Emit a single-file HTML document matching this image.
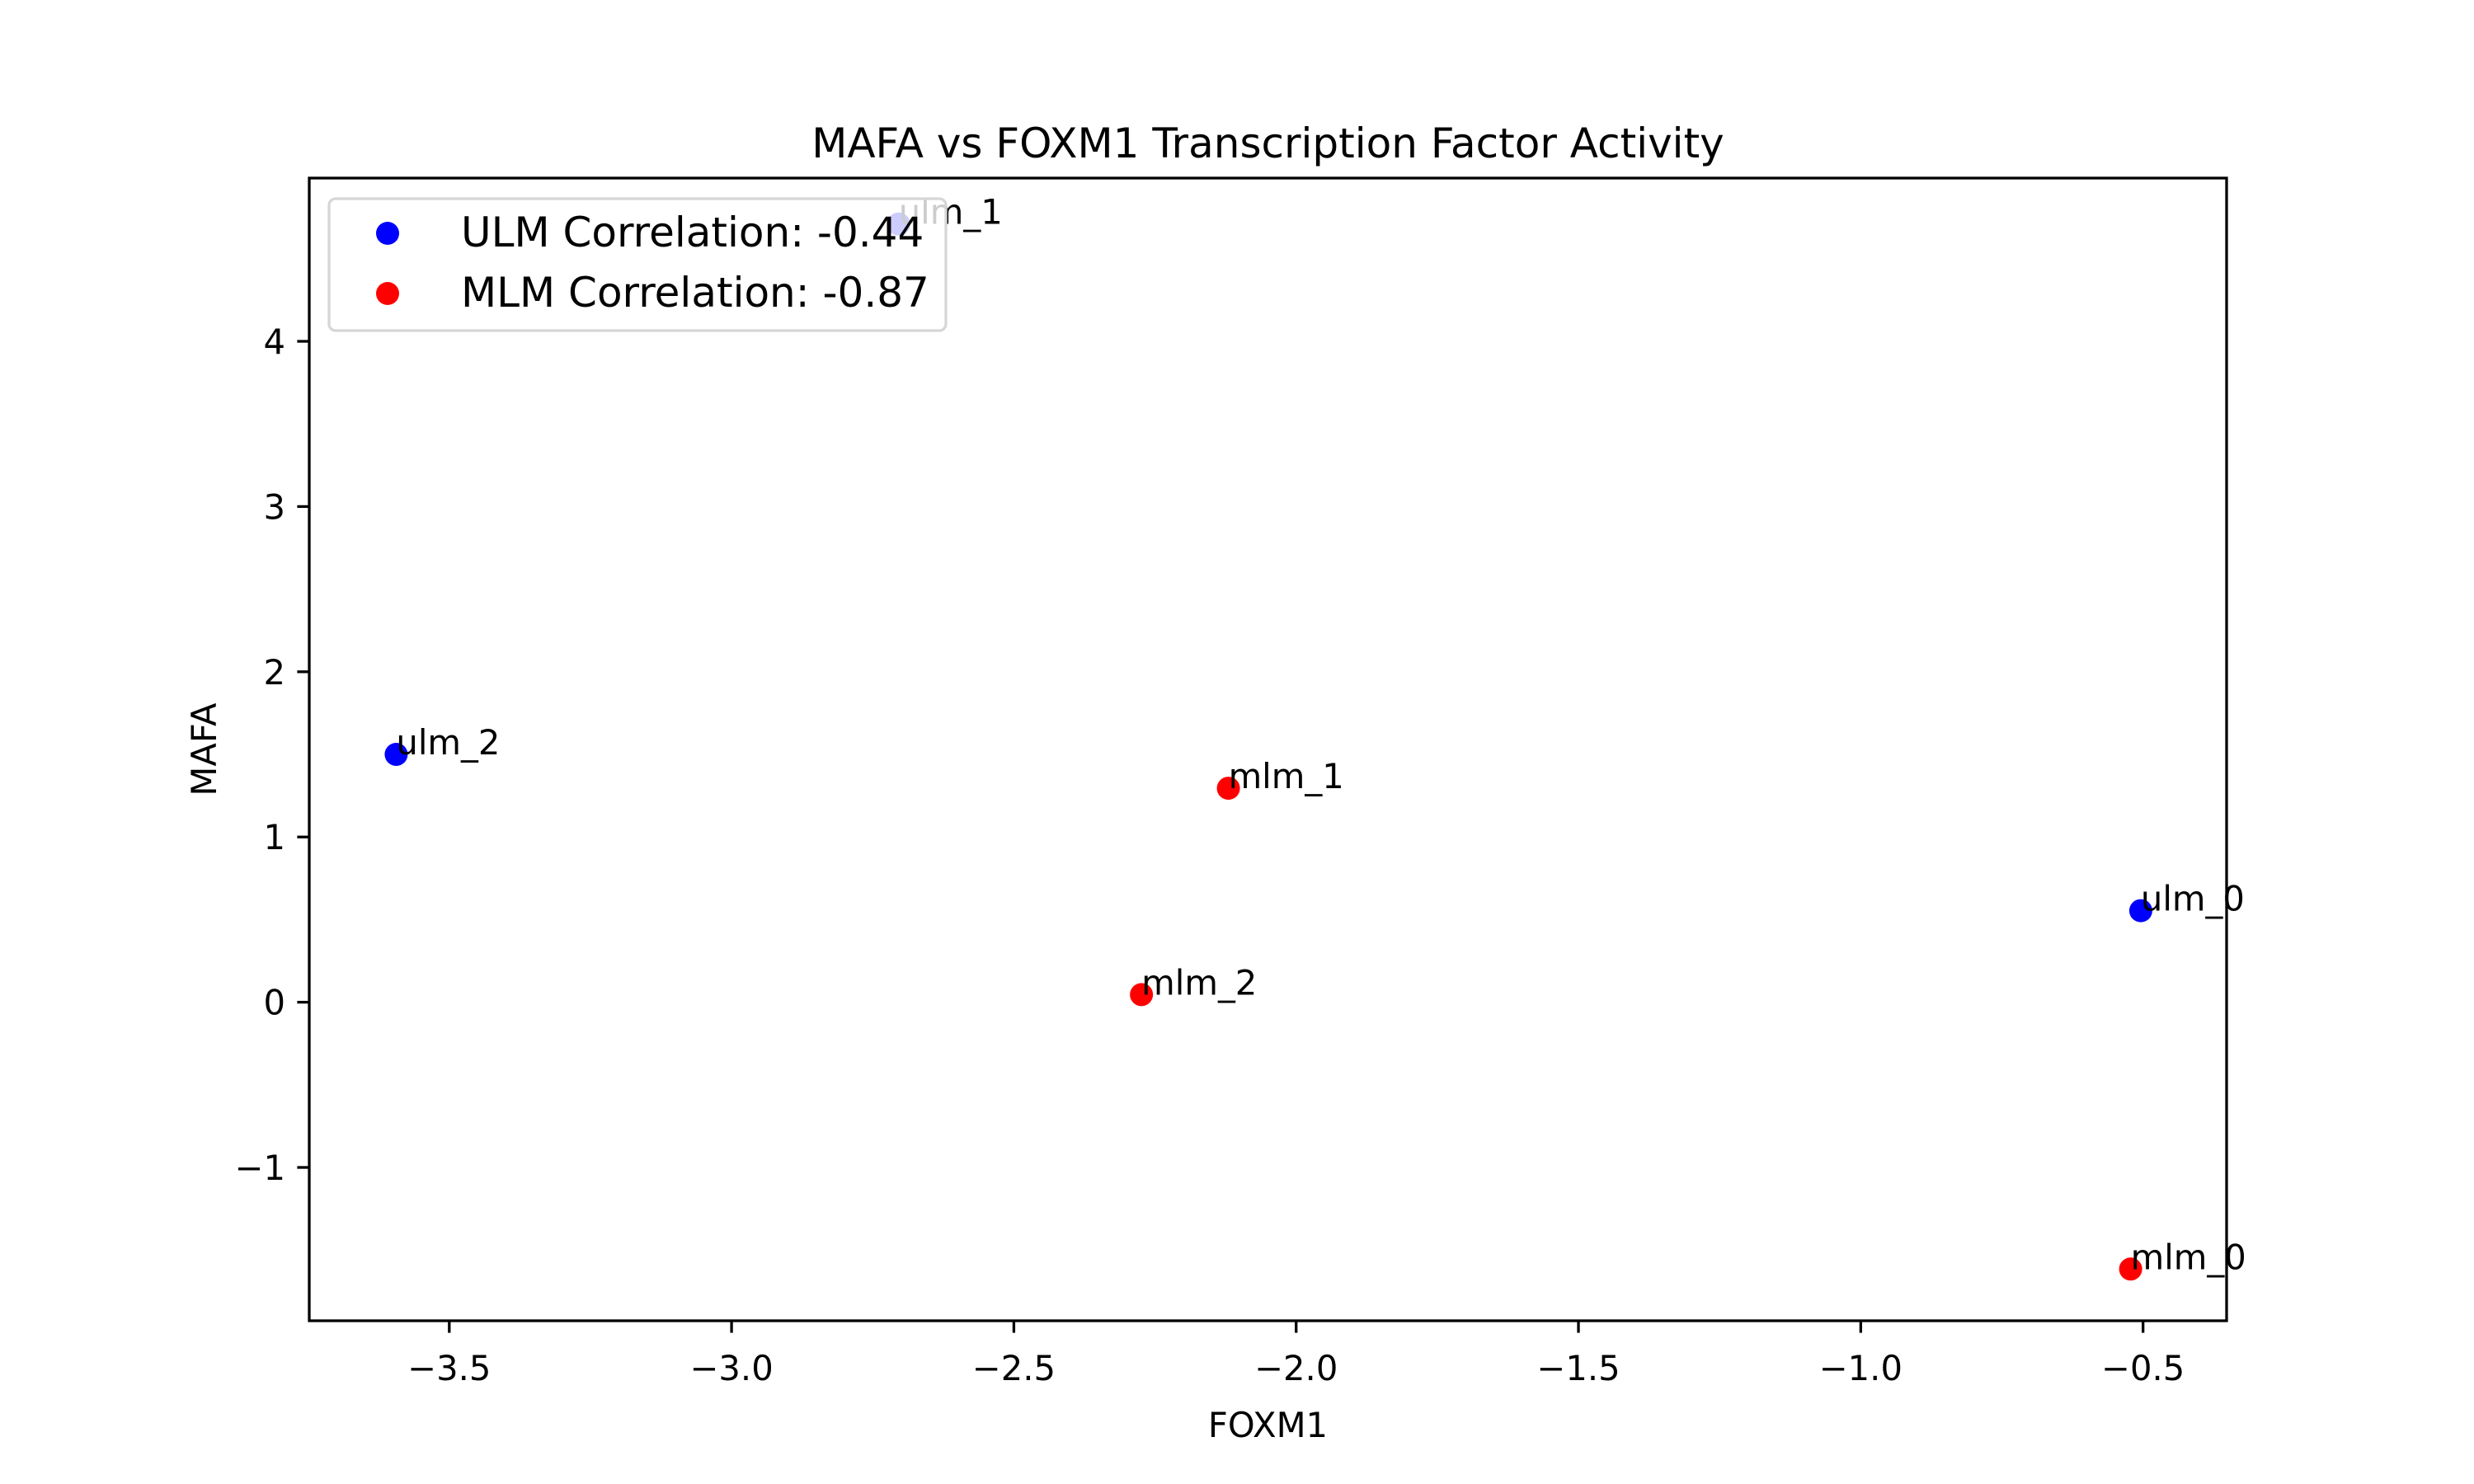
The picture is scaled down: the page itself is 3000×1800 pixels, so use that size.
<!DOCTYPE html>
<html><head><meta charset="utf-8"><style>body{margin:0;background:#fff}svg{display:block}text{font-family:"DejaVu Sans","Liberation Sans",sans-serif}</style></head>
<body>
<svg id="chart" width="3000" height="1800" viewBox="0 0 3000 1800" xmlns="http://www.w3.org/2000/svg">
<rect width="3000" height="1800" fill="#fff"/>
<g id="plot"></g>
</svg>
<script>
const ulmLabels = ["ulm_0","ulm_1","ulm_2"];
const ulmX = [-0.504, -2.704, -3.594];
const ulmY = [0.554, 4.71, 1.50];
const mlmLabels = ["mlm_0","mlm_1","mlm_2"];
const mlmX = [-0.522, -2.12, -2.274];
const mlmY = [-1.615, 1.295, 0.046];
const xTicks = [-3.5,-3.0,-2.5,-2.0,-1.5,-1.0,-0.5];
const xTickLabels = ["−3.5","−3.0","−2.5","−2.0","−1.5","−1.0","−0.5"];
const yTicks = [-1,0,1,2,3,4];
const yTickLabels = ["−1","0","1","2","3","4"];
const legendLabels = ["ULM Correlation: -0.44","MLM Correlation: -0.87"];

const L=375,R=2700,T=216,B=1602;
const xmin=-3.748,xmax=-0.352,ymin=-1.928,ymax=4.988;
const sx=v=>L+(v-xmin)/(xmax-xmin)*(R-L);
const sy=v=>B-(v-ymin)/(ymax-ymin)*(B-T);
const NS="http://www.w3.org/2000/svg";
const g=document.getElementById('plot');
function mk(tag,attrs,parent){const e=document.createElementNS(NS,tag);for(const k in attrs)e.setAttribute(k,attrs[k]);(parent||g).appendChild(e);return e;}

const t=mk('text',{x:(L+R)/2,y:191,'font-size':50,'text-anchor':'middle'});


t.textContent='MAFA vs FOXM1 Transcription Factor Activity';

function series(xs,ys,labs,color,name){
  xs.forEach((x,i)=>{
    const c=mk('circle',{cx:sx(x),cy:sy(ys[i]),r:14,fill:color});
    
    
    const tx=mk('text',{x:sx(x),y:sy(ys[i]),'font-size':41.7});
    
    
    tx.textContent=labs[i];
  });
}
series(ulmX,ulmY,ulmLabels,'#0000ff','ulm');
series(mlmX,mlmY,mlmLabels,'#ff0000','mlm');

const frame=mk('rect',{x:L,y:T,width:R-L,height:B-T,fill:'none',stroke:'#000','stroke-width':3.3});



xTicks.forEach((v,i)=>{
  const ln=mk('line',{x1:sx(v),x2:sx(v),y1:B,y2:B+14.6,stroke:'#000','stroke-width':3.3});
  
  
  const tx=mk('text',{x:sx(v),y:B+72,'font-size':41.7,'text-anchor':'middle'});
  
  
  tx.textContent=xTickLabels[i];
});
yTicks.forEach((v,i)=>{
  const ln=mk('line',{x1:L-14.6,x2:L,y1:sy(v),y2:sy(v),stroke:'#000','stroke-width':3.3});
  
  
  const tx=mk('text',{x:L-29,y:sy(v)+15,'font-size':41.7,'text-anchor':'end'});
  
  
  tx.textContent=yTickLabels[i];
});
const xl=mk('text',{x:(L+R)/2,y:1743,'font-size':41.7,'text-anchor':'middle'});


xl.textContent='FOXM1';
const yl=mk('text',{x:0,y:0,'font-size':41.7,'text-anchor':'middle',transform:`translate(262,${(T+B)/2}) rotate(-90)`});


yl.textContent='MAFA';

const lg=mk('g',{});


mk('rect',{x:399,y:241,width:748,height:160,rx:8,fill:'#fff','fill-opacity':0.8,stroke:'#d6d6d6','stroke-width':3.3},lg);
const cols=['#0000ff','#ff0000'];
legendLabels.forEach((s,i)=>{
  const y=283+i*73;
  const m=mk('circle',{cx:470,cy:y,r:14,fill:cols[i]},lg);
  
  
  const tx=mk('text',{x:559,y:y+16,'font-size':50},lg);
  
  
  tx.textContent=s;
});
</script>
</body></html>
